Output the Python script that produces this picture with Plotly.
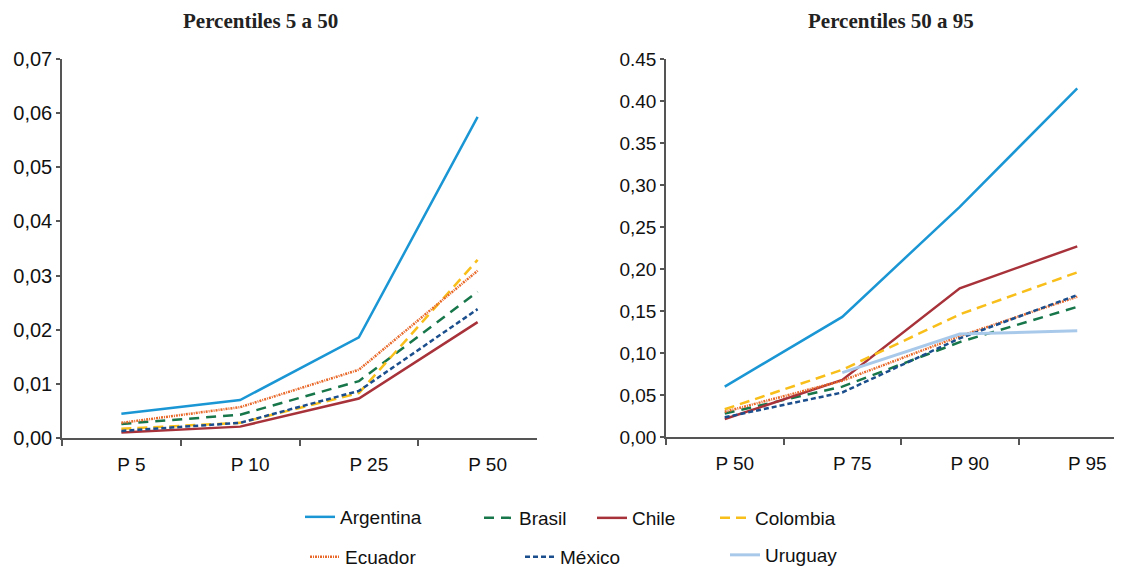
import plotly.graph_objects as go

left_categories = ["P 5", "P 10", "P 25", "P 50"]
right_categories = ["P 50", "P 75", "P 90", "P 95"]

countries = ["Argentina", "Brasil", "Chile", "Colombia", "Ecuador", "México", "Uruguay"]

left_argentina = [0.0045, 0.0070, 0.0186, 0.0593]
left_brasil = [0.0026, 0.0043, 0.0105, 0.0270]
left_chile = [0.0010, 0.0021, 0.0073, 0.0214]
left_colombia = [0.0017, 0.0028, 0.0083, 0.0329]
left_ecuador = [0.0028, 0.0057, 0.0126, 0.0309]
left_mexico = [0.0013, 0.0028, 0.0087, 0.0238]
left_uruguay = [None, None, None, None]

right_argentina = [0.060, 0.143, 0.274, 0.415]
right_brasil = [0.028, 0.060, 0.113, 0.155]
right_chile = [0.0214, 0.068, 0.177, 0.227]
right_colombia = [0.033, 0.080, 0.146, 0.196]
right_ecuador = [0.030, 0.067, 0.120, 0.167]
right_mexico = [0.0234, 0.053, 0.1175, 0.169]
right_uruguay = [None, 0.0766, 0.1226, 0.1265]

left_tickvals = [0, 0.01, 0.02, 0.03, 0.04, 0.05, 0.06, 0.07]
left_ticktext = ["0,00", "0,01", "0,02", "0,03", "0,04", "0,05", "0,06", "0,07"]
right_tickvals = [0, 0.05, 0.10, 0.15, 0.20, 0.25, 0.30, 0.35, 0.40, 0.45]
right_ticktext = ["0,00", "0,05", "0,10", "0,15", "0,20", "0,25", "0,30", "0.35", "0.40", "0.45"]

left_data = [left_argentina, left_brasil, left_chile, left_colombia, left_ecuador, left_mexico, left_uruguay]
right_data = [right_argentina, right_brasil, right_chile, right_colombia, right_ecuador, right_mexico, right_uruguay]

styles = {
    "Argentina": dict(color="#1a96d4", width=2.5, dash="solid"),
    "Brasil": dict(color="#17764a", width=2.5, dash="10px,7px"),
    "Chile": dict(color="#a8323a", width=2.5, dash="solid"),
    "Colombia": dict(color="#f8be1a", width=2.5, dash="10px,6px"),
    "Ecuador": dict(color="#e8692a", width=2.5, dash="2px,1px,1px,1px"),
    "México": dict(color="#1b4e8c", width=2.5, dash="5px,3px"),
    "Uruguay": dict(color="#a9c9ea", width=3, dash="solid"),
}

# page offset from default body margin
OX, OY = 8, 8
W, H = 1122 - OX, 567 - OY


def fx(px):
    return (px - OX) / W


def fy(py):
    return 1 - (py - OY) / H


# legend positions (page pixels): legend box left x, center y
legend_pos = {
    "Argentina": (300, 517),
    "Brasil": (479, 518),
    "Chile": (592, 518),
    "Colombia": (715, 518),
    "Ecuador": (305, 557),
    "México": (520, 557),
    "Uruguay": (725, 555),
}

fig = go.Figure()

for i, name in enumerate(countries):
    legname = "legend" if i == 0 else f"legend{i + 1}"
    has_left = any(v is not None for v in left_data[i])
    fig.add_trace(go.Scatter(
        x=left_categories, y=left_data[i], name=name, mode="lines",
        line=styles[name], xaxis="x", yaxis="y",
        showlegend=has_left, legend=legname, connectgaps=False,
    ))
    fig.add_trace(go.Scatter(
        x=right_categories, y=right_data[i], name=name, mode="lines",
        line=styles[name], xaxis="x2", yaxis="y2",
        showlegend=not has_left, legend=legname, connectgaps=False,
    ))

legend_layout = {}
for i, name in enumerate(countries):
    legname = "legend" if i == 0 else f"legend{i + 1}"
    px, py = legend_pos[name]
    legend_layout[legname] = dict(
        x=fx(px), y=fy(py), xanchor="left", yanchor="middle",
        xref="paper", yref="paper",
        font=dict(family="Liberation Sans, Arial", size=19, color="#111"),
        bgcolor="rgba(0,0,0,0)", borderwidth=0, itemwidth=30,
    )

axis_common = dict(
    showgrid=False, zeroline=False, showline=True, linecolor="#555", linewidth=1.5,
    ticks="outside", tickcolor="#555", tickwidth=1.5, automargin=False,
)


def tf(size):
    return dict(family="Liberation Sans, Arial", size=size, color="#111")


fig.update_layout(
    width=W, height=H,
    margin=dict(l=0, r=0, t=0, b=0, autoexpand=False),
    paper_bgcolor="white", plot_bgcolor="white",
    xaxis=dict(domain=[fx(62), fx(537)], type="category", range=[-0.5, 3.5],
               tickson="boundaries", ticklen=6, ticklabelshift=10, ticklabelstandoff=8,
               tickfont=tf(19), **axis_common),
    yaxis=dict(domain=[fy(438), fy(59)], range=[0, 0.07], tickvals=left_tickvals,
               ticktext=left_ticktext, ticklen=4, anchor="x", tickfont=tf(20), **axis_common),
    xaxis2=dict(domain=[fx(666), 1.0], type="category", range=[-0.5, 3.5 - 14 / 117.5],
                tickson="boundaries", ticklen=6, ticklabelshift=10, ticklabelstandoff=8,
                anchor="y2", tickfont=tf(19), **axis_common),
    yaxis2=dict(domain=[fy(437), fy(59)], range=[0, 0.45], tickvals=right_tickvals,
                ticktext=right_ticktext, ticklen=4, anchor="x2", tickfont=tf(19), **axis_common),
    annotations=[
        dict(text="<b>Percentiles 5 a 50</b>", x=fx(260), y=fy(21), xref="paper", yref="paper",
             showarrow=False, xanchor="center", yanchor="middle",
             font=dict(family="Liberation Serif, Times New Roman", size=21, color="#222")),
        dict(text="<b>Percentiles 50 a 95</b>", x=fx(891), y=fy(21), xref="paper", yref="paper",
             showarrow=False, xanchor="center", yanchor="middle",
             font=dict(family="Liberation Serif, Times New Roman", size=21, color="#222")),
    ],
    **legend_layout,
)

fig.write_html("out.html")
